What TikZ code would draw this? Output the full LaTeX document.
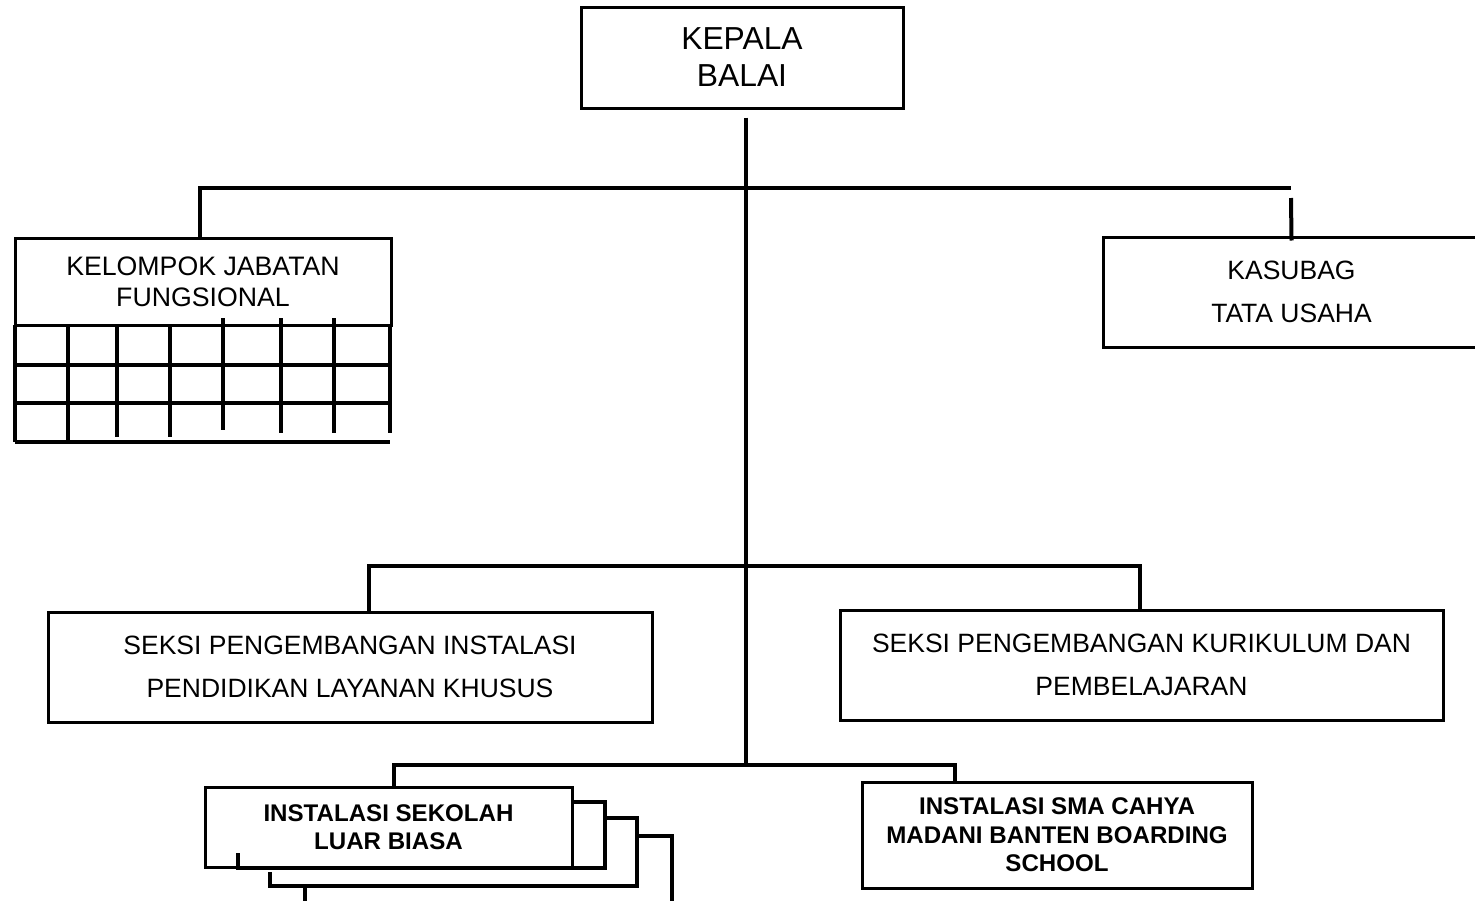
\documentclass[tikz,border=0pt]{standalone}
\usepackage{fontspec}
\setmainfont{Liberation Sans}
\usetikzlibrary{positioning}
\tikzstyle{unit}=[draw=black, line width=3pt, inner sep=0, align=center, font=\fontsize{26.5}{43}\selectfont]
\tikzstyle{inst}=[unit, font=\bfseries\fontsize{24.1}{28.5}\selectfont]
\tikzstyle{conn}=[line width=3.5pt]
\tikzstyle{grid}=[line width=4pt]

\begin{document}
\begin{tikzpicture}[x=1pt, y=1pt]
		\useasboundingbox[fill=white] (0,0) rectangle (1475,-900);
		
		\node[unit, minimum width=322, minimum height=101, font=\fontsize{31.8}{37}\selectfont] (kepala) at (742,-57.5) {KEPALA\\BALAI};
		\node[unit, minimum width=376, minimum height=87, font=\fontsize{26.7}{31}\selectfont] (kelompok) at (203,-281.5) {KELOMPOK JABATAN\\FUNGSIONAL};
		\node[unit, minimum width=377, minimum height=110] (kasubag) at (1291.5,-292) {KASUBAG\\TATA USAHA};
		\node[unit, minimum width=604, minimum height=110] (seksiA) at (350,-667) {SEKSI PENGEMBANGAN INSTALASI\\PENDIDIKAN LAYANAN KHUSUS};
		\node[unit, minimum width=603, minimum height=110] (seksiB) at (1141.5,-665) {SEKSI PENGEMBANGAN KURIKULUM DAN\\PEMBELAJARAN};
		\node[inst, minimum width=367, minimum height=80] (sekolah) at (388.5,-827) {INSTALASI SEKOLAH\\LUAR BIASA};
		\node[inst, minimum width=390, minimum height=106] (sma) at (1057,-835) {INSTALASI SMA CAHYA\\MADANI BANTEN BOARDING\\SCHOOL};
		
		\coordinate (j1) at (746,-188);
		\coordinate (j2) at (746,-566);
		\coordinate (j3) at (746,-765);
		\coordinate (tr) at (1291,-188);
		
		% garis utama
		\draw[conn] ([xshift=4pt,yshift=-8pt]kepala.south) -- (j3);
		\draw[conn] ([xshift=-3pt]kelompok.north) |- (j1) -- (tr);
		\draw[grid] ([yshift=-10pt]tr) -- ([yshift=-5pt]kasubag.north);
		\draw[conn] ([xshift=19pt]seksiA.north) |- (j2) -| ([xshift=-1.5pt]seksiB.north);
		\draw[conn] ([xshift=5.5pt]sekolah.north) |- (j3) -| ([xshift=-102pt]sma.north);
		
		% tabel jabatan fungsional
		\foreach \y in {365,403,442}
			\draw[grid] (15,-\y) -- (390,-\y);
		\foreach \x/\ya/\yb in {15/325/442, 68/325/440, 117/327/437, 170/327/437, 223/318/430, 281/318/433, 334/318/433, 390/325/433}
			\draw[grid] (\x,-\ya) -- (\x,-\yb);
		
		% tumpukan instalasi
		\draw[conn] (sekolah.east |- 0,-802) -- (605,-802) -- (605,-868) -- (238,-868) -- (238,-853);
		\draw[conn] (605,-818) -- (637,-818) -- (637,-886) -- (270,-886) -- (270,-872);
		\draw[conn] (637,-836) -- (672,-836) -- (672,-902);
		\draw[conn] (305,-887) -- (305,-902);
	\end{tikzpicture}
\end{document}
